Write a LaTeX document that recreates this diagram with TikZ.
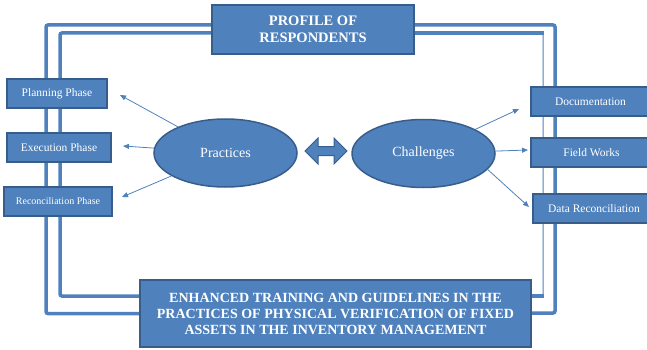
\documentclass[tikz,border=0pt]{standalone}
\usepackage{fontspec}
\setmainfont{Liberation Serif}
\usetikzlibrary{shapes.geometric, shapes.arrows, arrows.meta, positioning, backgrounds}
\definecolor{boxblue}{RGB}{79,129,189}
\definecolor{edgeblue}{RGB}{56,93,138}

\begin{document}
\begin{tikzpicture}[x=1pt, y=-1pt,
  phase/.style={draw=edgeblue, line width=1.5pt, fill=boxblue, text=white, minimum height=29pt, inner sep=2pt, font=\fontsize{11.5}{13}\selectfont},
  banner/.style={draw=edgeblue, line width=1.5pt, fill=boxblue, text=white, align=center, font=\bfseries\fontsize{14.5}{17}\selectfont},
  theme/.style={ellipse, draw=edgeblue, line width=1.5pt, fill=boxblue, text=white, minimum width=143pt, minimum height=68pt, font=\fontsize{14}{16}\selectfont},
  rail/.style={draw=boxblue, line width=3.5pt, rounded corners=2pt},
  spoke/.style={draw=boxblue, line width=0.8pt, -{Triangle[length=6pt,width=5pt]}}
]
  \useasboundingbox (0,0) rectangle (647,350);

  % top and bottom banners
  \node[banner, minimum width=202pt, minimum height=49pt] (profile) at (313,29.5) {PROFILE OF\\RESPONDENTS};
  \node[banner, minimum width=391pt, minimum height=67pt, font=\bfseries\fontsize{14}{16}\selectfont] (training) at (335.5,313.5)
    {ENHANCED TRAINING AND GUIDELINES IN THE\\PRACTICES OF PHYSICAL VERIFICATION OF FIXED\\ASSETS IN THE INVENTORY MANAGEMENT};

  % left column
  \node[phase, minimum width=100pt] (planning) at (57,93.5) {Planning Phase};
  \node[phase, minimum width=104pt] (execution) at (59,147.5) {Execution Phase};
  \node[phase, minimum width=108pt, font=\fontsize{10}{12}\selectfont] (reconciliation) at (58,201.5) {Reconciliation Phase};

  % right column
  \node[phase, minimum width=119pt] (documentation) at (590.5,101.5) {Documentation};
  \node[phase, minimum width=121pt] (fieldworks) at (591.5,152.5) {Field Works};
  \node[phase, minimum width=122pt] (datarec) at (594,208.5) {Data Reconciliation};

  % the two themes
  \node[theme] (practices) at (225.5,153) {Practices};
  \node[theme] (challenges) at (423.5,153.5) {Challenges};
  \node[double arrow, draw=edgeblue, line width=1pt, fill=boxblue, minimum height=42pt, minimum width=25pt,
        inner sep=4pt, double arrow head extend=8.5pt] (link) at (326,151) {};

  \coordinate (planTip) at (120,95);
  \coordinate (execTip) at (123,146);
  \coordinate (recTip) at (122,197);
  \coordinate (docTip) at (519,109);
  \coordinate (fieldTip) at (528,150);
  \coordinate (dataTip) at (529,207);

  \draw[spoke] (practices) -- (planTip);
  \draw[spoke] (practices) -- (execTip);
  \draw[spoke] (practices) -- (recTip);
  \draw[spoke] (challenges) -- (docTip);
  \draw[spoke] (challenges) -- (fieldTip);
  \draw[spoke] (challenges.-14) -- (dataTip);

  % double frame behind the boxes
  \begin{scope}[on background layer]
    \draw[rail] ([yshift=4.5pt]profile.west) -| (46,200) |- (training.west);
    \draw[rail] ([yshift=-3.5pt]profile.west) -| (60,200) |- ([yshift=17.5pt]training.west);
    \draw[rail] ([yshift=4.5pt]profile.east) -| (555,200) |- ([yshift=0.5pt]training.east);
    \draw[rail, line width=1pt] ([yshift=-3.5pt]profile.east) -| (543,200) |- ([yshift=17.5pt]training.east);
    \draw[rail] ([yshift=-3.5pt]profile.east) -- ++(129,0);
    \draw[rail] ([yshift=17.5pt]training.east) -- ++(12,0);
  \end{scope}
\end{tikzpicture}
\end{document}
